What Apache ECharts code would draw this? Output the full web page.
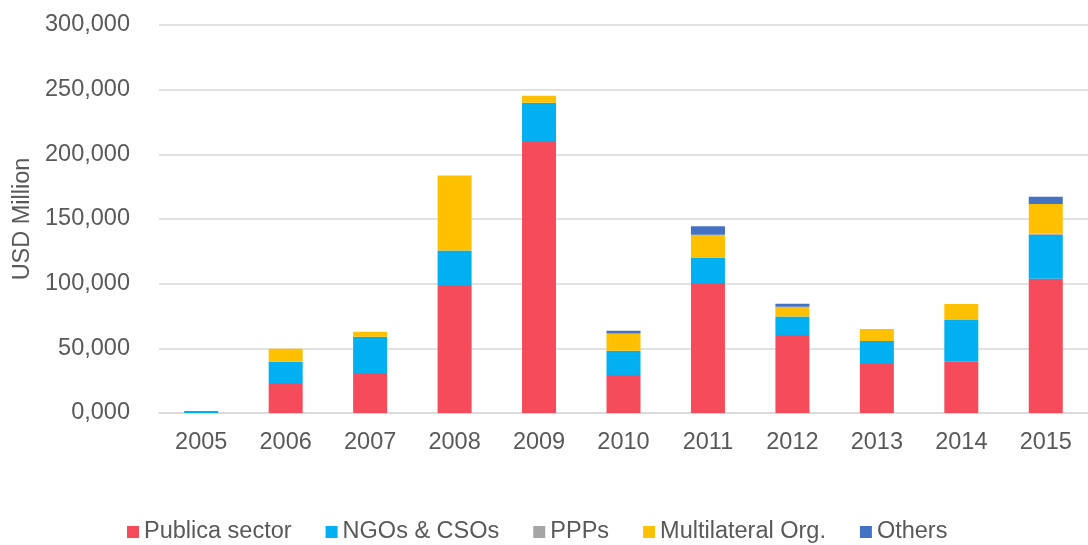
<!DOCTYPE html>
<html>
<head>
<meta charset="utf-8">
<script src="https://cdn.jsdelivr.net/npm/echarts@6/dist/echarts.min.js"></script>
<style>
  html, body { margin: 0; padding: 0; background: #fff; }
  #main { width: 1088px; height: 545px; }
</style>
</head>
<body>
<div id="main"></div>
<script>
// data (USD Million)
var years = ['2005', '2006', '2007', '2008', '2009', '2010', '2011', '2012', '2013', '2014', '2015'];
var publicSector = [0, 23200, 30900, 98900, 209500, 29400, 100500, 60300, 38700, 39700, 103800];
var ngos = [1500, 16500, 28100, 26800, 30400, 18800, 19800, 14400, 17000, 32200, 34100];
var ppps = [0, 0, 0, 0, 0, 0, 0, 0, 0, 0, 600];
var multilateral = [0, 10000, 3800, 58000, 5400, 13300, 17500, 7500, 9300, 12400, 23100];
var others = [0, 0, 0, 0, 0, 2100, 6500, 2300, 0, 0, 5600];

var names = ['Publica sector', 'NGOs & CSOs', 'PPPs', 'Multilateral Org.', 'Others'];
var colors = ['#F64B5A', '#00B0F0', '#A5A5A5', '#FFC000', '#4472C4'];

var myChart = echarts.init(document.getElementById('main'));

function fmt(v) {
    if (v === 0) return '0,000';
    return v.toLocaleString('en-US');
}

var seriesData = [publicSector, ngos, ppps, multilateral, others];
var series = [];
for (var i = 0; i < names.length; i++) {
    series.push({
        name: names[i],
        type: 'bar',
        stack: 'total',
        barWidth: 34,
        itemStyle: { color: colors[i] },
        data: seriesData[i]
    });
}

var option = {
    animation: false,
    color: colors,
    textStyle: { fontFamily: 'Liberation Sans, Arial, sans-serif' },
    grid: {
        left: 159,
        top: 25,
        width: 936,
        height: 388
    },
    legend: {
        data: names,
        top: 515,
        left: 122,
        itemWidth: 12,
        itemHeight: 12,
        itemGap: 34,
        icon: 'rect',
        textStyle: { color: '#595959', fontSize: 23.5 }
    },
    xAxis: {
        type: 'category',
        data: years,
        axisLine: { lineStyle: { color: '#D9D9D9', width: 1.5 } },
        axisTick: { show: false },
        axisLabel: { color: '#595959', fontSize: 23.5, margin: 18 }
    },
    yAxis: {
        type: 'value',
        min: 0,
        max: 300000,
        interval: 50000,
        name: 'USD Million',
        nameLocation: 'middle',
        nameGap: 124,
        nameTextStyle: { color: '#595959', fontSize: 23.5 },
        axisLine: { show: false },
        axisTick: { show: false },
        axisLabel: {
            color: '#595959',
            fontSize: 23.5,
            margin: 29,
            formatter: function (v) { return fmt(v); }
        },
        splitLine: { lineStyle: { color: '#D9D9D9', width: 1.5 } }
    },
    series: series
};

myChart.setOption(option);
</script>
</body>
</html>
